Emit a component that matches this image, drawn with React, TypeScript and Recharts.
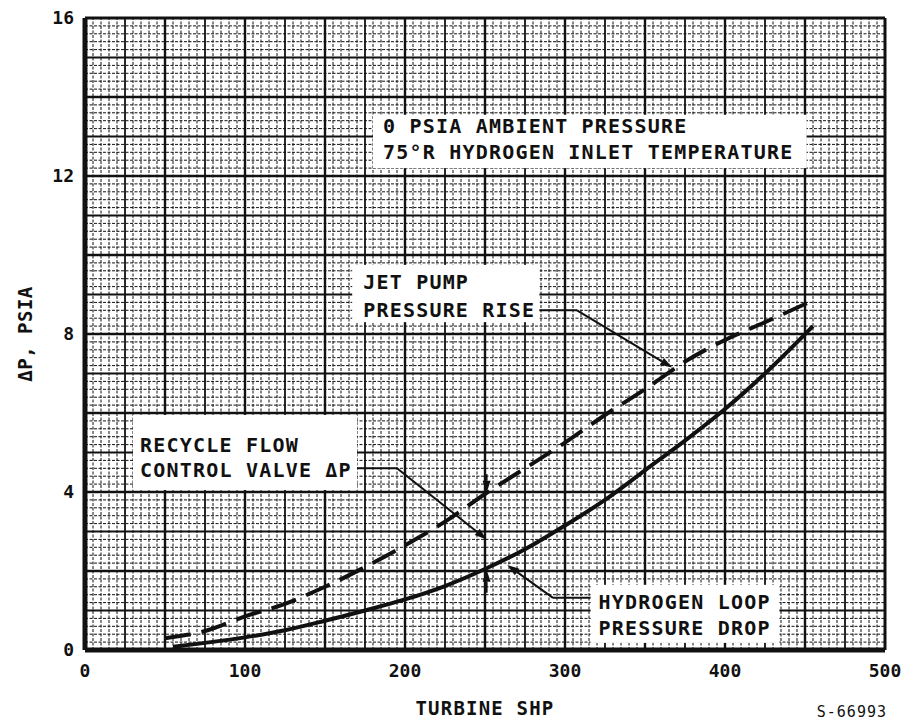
import React from "react";
import { ComposedChart, Line, XAxis, YAxis, ReferenceLine, ReferenceArea } from "recharts";

const xTicks = [0, 100, 200, 300, 400, 500];
const yTicks = [0, 4, 8, 12, 16];

// jet pump pressure rise (dashed)
const jetShp = [50, 75, 100, 125, 150, 175, 200, 225, 250, 275, 300, 325, 350, 375, 400, 425, 455];
const jetRise = [0.3, 0.48, 0.85, 1.17, 1.6, 2.1, 2.65, 3.25, 3.95, 4.6, 5.25, 5.95, 6.6, 7.3, 7.85, 8.3, 8.85];

// hydrogen loop pressure drop (solid)
const loopShp = [55, 75, 100, 125, 150, 175, 200, 225, 250, 275, 300, 325, 350, 375, 400, 425, 455];
const loopDrop = [0.08, 0.18, 0.32, 0.5, 0.74, 1.0, 1.28, 1.62, 2.05, 2.55, 3.15, 3.8, 4.55, 5.3, 6.1, 7.0, 8.2];

const jetData = jetShp.map((shp, i) => ({ shp, dp: jetRise[i] }));
const loopData = loopShp.map((shp, i) => ({ shp, dp: loopDrop[i] }));

// graph paper
const minorX = Array.from({ length: 101 }, (_, i) => i * 5).filter((v) => v % 25 !== 0);
const midX = Array.from({ length: 21 }, (_, i) => i * 25).filter((v) => v % 50 !== 0);
const majorX = Array.from({ length: 11 }, (_, i) => i * 50).filter((v) => v > 0 && v < 500);
const minorY = Array.from({ length: 81 }, (_, i) => +(i * 0.2).toFixed(1)).filter((v) => Math.abs(v - Math.round(v)) > 0.01);
const midY = Array.from({ length: 17 }, (_, i) => i).filter((v) => v % 2 !== 0);
const majorY = Array.from({ length: 9 }, (_, i) => i * 2).filter((v) => v > 0 && v < 16);

const INK = "#111";
const FONT = "'DejaVu Sans Mono', monospace";

const textStyle = { fontFamily: FONT, fontWeight: 700, fontSize: 20, letterSpacing: 1.2, fill: INK };

const boxShape = (lines: string[], padX: number, baselines: number[]) => (p: any) => (
  <g>
    <rect x={p.x} y={p.y} width={p.width} height={p.height} fill="#fff" />
    {lines.map((t, i) => (
      <text key={i} x={p.x + padX} y={p.y + baselines[i]} style={textStyle as any}>
        {t}
      </text>
    ))}
  </g>
);

const arrowShape = (p: any) => {
  const { x1, y1, x2, y2 } = p;
  const a = Math.atan2(y2 - y1, x2 - x1);
  const L = 12, W = 4;
  const bx = x2 - L * Math.cos(a), by = y2 - L * Math.sin(a);
  const nx = -Math.sin(a) * W, ny = Math.cos(a) * W;
  return (
    <g>
      <line x1={x1} y1={y1} x2={bx} y2={by} stroke={INK} strokeWidth={2} />
      <polygon points={`${x2},${y2} ${bx + nx},${by + ny} ${bx - nx},${by - ny}`} fill={INK} />
    </g>
  );
};

export default function App() {
  return (
    <div style={{ position: "absolute", left: 0, top: 0, width: 913, height: 722, background: "#fff" }}>
      <ComposedChart width={913} height={722} margin={{ top: 18, right: 28, left: 0, bottom: 0 }}>
        <XAxis
          type="number"
          dataKey="shp"
          domain={[0, 500]}
          ticks={xTicks}
          allowDataOverflow
          height={72}
          tickLine={false}
          tickSize={0}
          tickMargin={14}
          axisLine={{ stroke: INK, strokeWidth: 5 }}
          tick={{ fontFamily: FONT, fontWeight: 700, fontSize: 18, fill: INK }}
          label={{ value: "TURBINE SHP", position: "insideBottom", offset: 7, style: { ...textStyle, fontSize: 19 } }}
        />
        <YAxis
          type="number"
          domain={[0, 16]}
          ticks={yTicks}
          allowDataOverflow
          width={85}
          tickLine={false}
          tickSize={0}
          tickMargin={11}
          axisLine={{ stroke: INK, strokeWidth: 5 }}
          tick={{ fontFamily: FONT, fontWeight: 700, fontSize: 18, fill: INK }}
          label={{ value: "ΔP, PSIA", angle: -90, position: "insideLeft", offset: 25, style: { ...textStyle, fontSize: 19, letterSpacing: 0.5, textAnchor: "middle" } }}
        />

        {minorX.map((v) => (
          <ReferenceLine key={"mx" + v} x={v} stroke={INK} strokeWidth={1} strokeDasharray="3 1.5" />
        ))}
        {minorY.map((v) => (
          <ReferenceLine key={"my" + v} y={v} stroke={INK} strokeWidth={1} strokeDasharray="3 1.5" />
        ))}
        {midX.map((v) => (
          <ReferenceLine key={"dx" + v} x={v} stroke={INK} strokeWidth={1.8} />
        ))}
        {midY.map((v) => (
          <ReferenceLine key={"dy" + v} y={v} stroke={INK} strokeWidth={1.8} />
        ))}
        {majorX.map((v) => (
          <ReferenceLine key={"jx" + v} x={v} stroke={INK} strokeWidth={2.4} />
        ))}
        {majorY.map((v) => (
          <ReferenceLine key={"jy" + v} y={v} stroke={INK} strokeWidth={2.4} />
        ))}
        <ReferenceLine y={16} stroke={INK} strokeWidth={3} />
        <ReferenceLine x={500} stroke={INK} strokeWidth={3} />

        <Line data={jetData} dataKey="dp" type="monotone" stroke={INK} strokeWidth={4} strokeDasharray="26 11" dot={false} activeDot={false} isAnimationActive={false} />
        <Line data={loopData} dataKey="dp" type="monotone" stroke={INK} strokeWidth={4} dot={false} activeDot={false} isAnimationActive={false} />

        <ReferenceArea x1={180} x2={451} y1={12.2} y2={13.55} zIndex={800} shape={boxShape(["0 PSIA AMBIENT PRESSURE", "75°R HYDROGEN INLET TEMPERATURE"], 10, [18, 44])} />
        <ReferenceArea x1={167} x2={284} y1={8.3} y2={9.75} zIndex={800} shape={boxShape(["JET PUMP", "PRESSURE RISE"], 11, [24, 52])} />
        <ReferenceArea x1={30} x2={170} y1={4.05} y2={5.95} zIndex={800} shape={boxShape(["RECYCLE FLOW", "CONTROL VALVE ΔP"], 7, [37, 62])} />
        <ReferenceArea x1={316} x2={434} y1={0.18} y2={1.65} zIndex={800} shape={boxShape(["HYDROGEN LOOP", "PRESSURE DROP"], 8, [24, 50])} />

        <ReferenceLine segment={[{ x: 284, y: 8.6 }, { x: 307.5, y: 8.6 }]} stroke={INK} strokeWidth={2} zIndex={900} />
        <ReferenceLine segment={[{ x: 307.5, y: 8.6 }, { x: 367, y: 7.15 }]} zIndex={900} shape={arrowShape} />
        <ReferenceLine segment={[{ x: 170, y: 4.6 }, { x: 195, y: 4.6 }]} stroke={INK} strokeWidth={2} zIndex={900} />
        <ReferenceLine segment={[{ x: 195, y: 4.6 }, { x: 251, y: 2.8 }]} zIndex={900} shape={arrowShape} />
        <ReferenceLine segment={[{ x: 251, y: 4.45 }, { x: 251, y: 3.98 }]} zIndex={900} shape={arrowShape} />
        <ReferenceLine segment={[{ x: 251, y: 1.45 }, { x: 251, y: 2.03 }]} zIndex={900} shape={arrowShape} />
        <ReferenceLine segment={[{ x: 316, y: 1.32 }, { x: 292.5, y: 1.32 }]} stroke={INK} strokeWidth={2} zIndex={900} />
        <ReferenceLine segment={[{ x: 292.5, y: 1.32 }, { x: 264, y: 2.15 }]} zIndex={900} shape={arrowShape} />
      </ComposedChart>
      <div style={{ position: "absolute", right: 26, top: 703, fontFamily: FONT, fontSize: 15, color: INK, letterSpacing: 1 }}>
        S-66993
      </div>
    </div>
  );
}
